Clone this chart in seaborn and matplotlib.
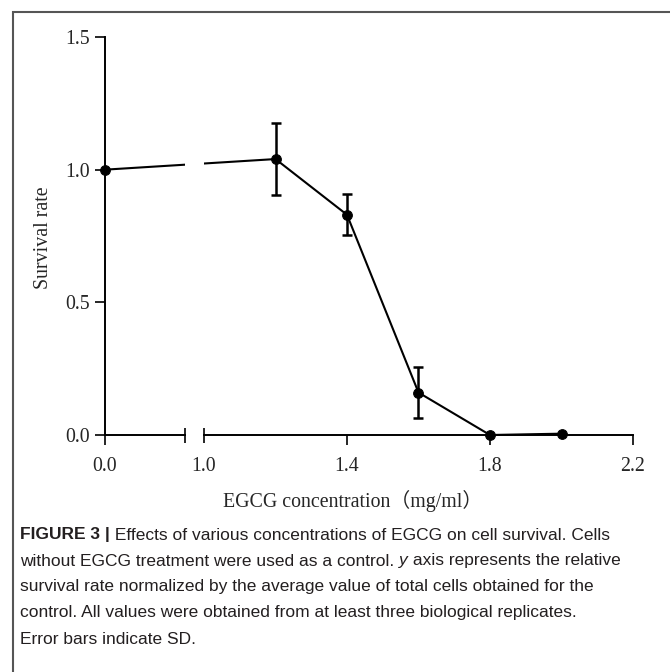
import numpy as np
import pandas as pd
import matplotlib
matplotlib.use("Agg")
import matplotlib.pyplot as plt
import seaborn as sns
from matplotlib.patches import ConnectionPatch, Rectangle

# ---------------- data ----------------
concentration = [0.0, 1.2, 1.4, 1.6, 1.8, 2.0]
survival_rate = [1.00, 1.04, 0.83, 0.16, 0.00, 0.005]
survival_sd = [0.0, 0.137, 0.077, 0.095, 0.0, 0.0]

y_ticks = [0.0, 0.5, 1.0, 1.5]
y_tick_labels = ["0.0", "0.5", "1.0", "1.5"]
x_ticks_left = [0.0]
x_tick_labels_left = ["0.0"]
x_ticks_right = [1.0, 1.4, 1.8, 2.2]
x_tick_labels_right = ["1.0", "1.4", "1.8", "2.2"]

x_label = "EGCG concentration（mg/ml）"
y_label = "Survival rate"
caption_lines = [
    [("FIGURE 3 |", "bold", "normal"), (" Effects of various concentrations of EGCG on cell survival. Cells", "normal", "normal")],
    [("without EGCG treatment were used as a control. ", "normal", "normal"), ("y", "normal", "italic"),
     (" axis represents the relative", "normal", "normal")],
    [("survival rate normalized by the average value of total cells obtained for the", "normal", "normal")],
    [("control. All values were obtained from at least three biological replicates.", "normal", "normal")],
    [("Error bars indicate SD.", "normal", "normal")],
]

df = pd.DataFrame({"conc": concentration, "rate": survival_rate, "sd": survival_sd})
left_df = df[df["conc"] < 1.0]
right_df = df[df["conc"] >= 1.0]

# ---------------- figure ----------------
sns.set_style("ticks")
W, H = 670, 672
fig = plt.figure(figsize=(W / 100, H / 100), dpi=100)
fig.patch.set_facecolor("white")

def fx(px):
    return px / W

def fy(py):
    return 1 - py / H

y_top, y_bot = 37, 435
ax1 = fig.add_axes([fx(105), fy(y_bot), fx(185) - fx(105), fy(y_top) - fy(y_bot)])
ax2 = fig.add_axes([fx(204), fy(y_bot), fx(633) - fx(204), fy(y_top) - fy(y_bot)])

for ax in (ax1, ax2):
    ax.set_facecolor("none")
    ax.set_ylim(0, 1.5)
    for s in ("top", "right"):
        ax.spines[s].set_visible(False)
    for s in ("left", "bottom"):
        ax.spines[s].set_linewidth(1.4)
        ax.spines[s].set_color("black")

ax1.set_xlim(0, 0.224)
ax2.set_xlim(1.0, 2.2)
ax2.spines["left"].set_visible(False)
ax2.tick_params(axis="y", left=False, labelleft=False)

serif = ["Liberation Serif", "DejaVu Serif"]
tick_fs = 14.3

# y axis
ax1.set_yticks(y_ticks)
ax1.set_yticklabels(y_tick_labels, fontfamily=serif, fontsize=tick_fs)
ax1.tick_params(axis="y", direction="out", length=7.2, width=1.4, pad=3.6)

# x axis left
ax1.set_xticks(x_ticks_left)
ax1.set_xticklabels(x_tick_labels_left, fontfamily=serif, fontsize=tick_fs)
ax1.set_xticks([0.224], minor=True)
ax1.tick_params(axis="x", which="major", direction="out", length=7.2, width=1.4, pad=8.4)
ax1.tick_params(axis="x", which="minor", direction="inout", length=10.8, width=1.4, pad=10.2)

# x axis right
ax2.set_xticks(x_ticks_right[1:])
ax2.set_xticklabels(x_tick_labels_right[1:], fontfamily=serif, fontsize=tick_fs)
ax2.set_xticks(x_ticks_right[:1], minor=True)
ax2.set_xticklabels(x_tick_labels_right[:1], minor=True, fontfamily=serif, fontsize=tick_fs)
ax2.tick_params(axis="x", which="major", direction="out", length=7.2, width=1.4, pad=8.4)
ax2.tick_params(axis="x", which="minor", direction="inout", length=10.8, width=1.4, pad=10.2)

# ---------------- data marks ----------------
line_kw = dict(color="black", linewidth=1.5, marker="o", markersize=7,
               markeredgecolor="black", markerfacecolor="black", clip_on=False)
sns.lineplot(data=right_df, x="conc", y="rate", ax=ax2, **line_kw)
sns.lineplot(data=left_df, x="conc", y="rate", ax=ax1, **line_kw)
eb = right_df[right_df["sd"] > 0]
ax2.errorbar(eb["conc"], eb["rate"], yerr=eb["sd"], fmt="none", ecolor="black",
             elinewidth=1.8, capsize=3.6, capthick=1.8, clip_on=False)
for ax in (ax1, ax2):
    ax.set_xlabel("")
    ax.set_ylabel("")

# bridging segment across the axis break, clipped to each axes
p0 = (left_df["conc"].iloc[-1], left_df["rate"].iloc[-1])
p1 = (right_df["conc"].iloc[0], right_df["rate"].iloc[0])
for host in (ax1, ax2):
    con = ConnectionPatch(xyA=p0, coordsA=ax1.transData, xyB=p1, coordsB=ax2.transData,
                          color="black", linewidth=1.5)
    host.add_artist(con)
    con.set_clip_on(True)
    con.set_clip_path(host.patch)

# ---------------- labels ----------------
fig.text(fx(43), fy(238), y_label, rotation=90, ha="center", va="center",
         fontfamily=serif, fontsize=tick_fs)
fig.text(fx(353), fy(501), x_label, ha="center", va="center",
         fontfamily=["Liberation Serif", "Noto Sans CJK SC"], fontsize=tick_fs)

# ---------------- caption ----------------
cap_family = ["Liberation Sans Narrow", "Liberation Sans", "DejaVu Sans"]
cap_fs = 12.5
renderer = fig.canvas.get_renderer()
y0, dy = 535, 26
for i, runs in enumerate(caption_lines):
    x = 20
    for txt, weight, style in runs:
        t = fig.text(fx(x), fy(y0 + i * dy), txt, ha="left", va="center",
                     fontfamily=cap_family, fontsize=cap_fs, fontweight=weight,
                     fontstyle=style, color="#231f20")
        x += t.get_window_extent(renderer).width

# frame border
fig.add_artist(Rectangle((fx(13), -0.05), 1.2, fy(12) + 0.05, transform=fig.transFigure,
                         fill=False, edgecolor="#555555", linewidth=1.5))

fig.savefig("out.png", dpi=100, facecolor="white")
